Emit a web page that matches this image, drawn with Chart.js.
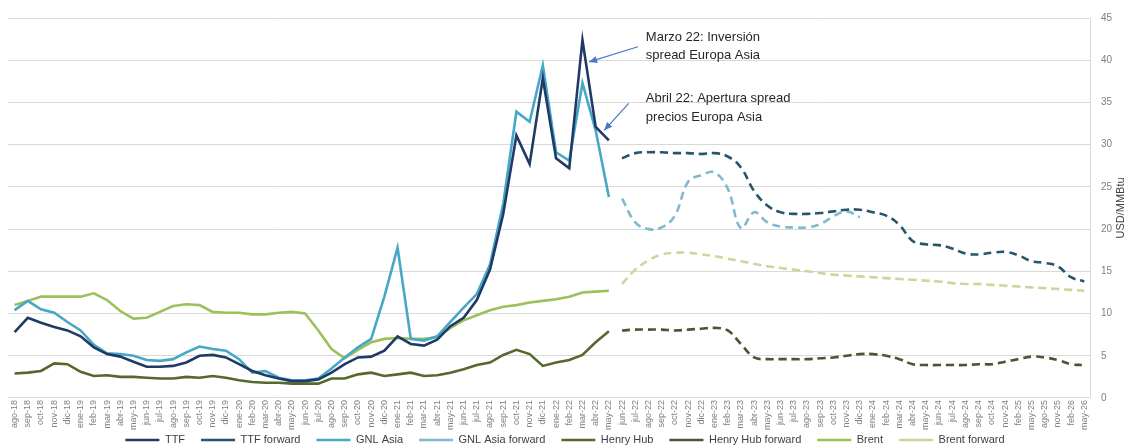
<!DOCTYPE html>
<html>
<head>
<meta charset="utf-8">
<title>Precios gas</title>
<script src="https://cdn.jsdelivr.net/npm/chart.js@4.4.1/dist/chart.umd.min.js"></script>
<style>
  html, body { margin: 0; padding: 0; background: #ffffff; }
</style>
</head>
<body>
<canvas id="preciosGas" width="1126" height="448"></canvas>
<script>
// eje x: meses (histórico ago-18..may-22, forward jun-22..may-26)
var meses = ['ago-18','sep-18','oct-18','nov-18','dic-18','ene-19','feb-19','mar-19','abr-19','may-19','jun-19','jul-19',
  'ago-19','sep-19','oct-19','nov-19','dic-19','ene-20','feb-20','mar-20','abr-20','may-20','jun-20','jul-20',
  'ago-20','sep-20','oct-20','nov-20','dic-20','ene-21','feb-21','mar-21','abr-21','may-21','jun-21','jul-21',
  'ago-21','sep-21','oct-21','nov-21','dic-21','ene-22','feb-22','mar-22','abr-22','may-22',
  'jun-22','jul-22','ago-22','sep-22','oct-22','nov-22','dic-22','ene-23','feb-23','mar-23','abr-23','may-23',
  'jun-23','jul-23','ago-23','sep-23','oct-23','nov-23','dic-23','ene-24','feb-24','mar-24','abr-24','may-24',
  'jun-24','jul-24','ago-24','sep-24','oct-24','nov-24','feb-25','may-25','ago-25','nov-25','feb-26','may-26'];

// historico (USD/MMBtu)
var ttf = [7.8,9.5,8.9,8.4,8.0,7.3,6.0,5.2,4.9,4.3, 3.7,3.7,3.8,4.2,5.0,5.1,4.8,4.0,3.2,2.7,
  2.3,2.0,2.0,2.2,3.0,4.0,4.8,4.9,5.6,7.3, 6.4,6.2,6.9,8.5,9.5,11.6,15.2,21.8,31.1,27.7,
  37.9,28.4,27.2,42.4,32.1,30.5];
var gnlAsia = [10.4,11.5,10.5,10.1,9.0,8.0,6.3,5.3,5.2,5.0, 4.5,4.4,4.6,5.4,6.1,5.8,5.6,4.6,3.0,3.2,
  2.4,2.1,2.1,2.3,3.5,4.8,6.0,7.0,12.0,17.8, 7.0,6.8,7.3,9.0,10.7,12.3,15.8,23.0,33.9,32.7,
  39.4,29.1,28.1,37.3,31.7,23.8];
var henryHub = [2.9,3.0,3.2,4.1,4.0,3.1,2.6,2.7,2.5,2.5, 2.4,2.3,2.3,2.5,2.4,2.6,2.4,2.1,1.9,1.8,
  1.8,1.7,1.7,1.7,2.3,2.3,2.8,3.0,2.6,2.8, 3.0,2.6,2.7,3.0,3.4,3.9,4.2,5.1,5.7,5.2,
  3.8,4.2,4.5,5.1,6.6,7.9];
var brent = [11.0,11.5,12.0,12.0,12.0,12.0,12.4,11.6,10.3,9.4, 9.5,10.2,10.9,11.1,11.0,10.2,10.1,10.1,9.9,9.9,
  10.1,10.2,10.0,8.0,5.8,4.7,5.7,6.6,7.0,7.1, 7.0,7.0,7.2,8.3,9.2,9.8,10.4,10.8,11.0,11.3,
  11.5,11.7,12.0,12.5,12.6,12.7];

// forward (desde jun-22)
var ttfFwd = [28.4,29.0,29.1,29.1,29.0,29.0,28.9,29.0,28.6,27.3, 24.5,22.8,22.0,21.8,21.8,21.9,22.1,22.3,22.3,22.0,
  21.6,20.5,18.6,18.2,18.1,17.7,17.1,17.0,17.2,17.3, 16.9,16.2,16.0,15.6,14.3,13.8];
var gnlAsiaFwd = [23.6,20.8,20.0,20.2,21.6,25.6,26.4,26.7,24.8,20.1, 22.0,20.8,20.3,20.2,20.2,20.6,21.5,22.1,21.4];
var henryHubFwd = [8.0,8.1,8.1,8.1,8.0,8.1,8.2,8.3,8.0,6.4, 4.8,4.6,4.6,4.6,4.6,4.7,4.8,5.0,5.2,5.2,
  5.0,4.6,4.0,3.9,3.9,3.9,3.9,4.0,4.0,4.3, 4.6,4.9,4.8,4.5,4.0,3.9];
var brentFwd = [13.5,15.2,16.3,17.0,17.2,17.2,17.0,16.8,16.5,16.2, 15.9,15.6,15.4,15.2,15.0,14.8,14.6,14.5,14.4,14.3,
  14.2,14.1,14.0,13.9,13.8,13.6,13.5,13.5,13.4,13.3, 13.2,13.1,13.0,12.9,12.8,12.7];

var yTicks = [0,5,10,15,20,25,30,35,40,45];

var nHist = ttf.length;

function pad(arr, before) {
  var out = [];
  for (var i = 0; i < before; i++) out.push(null);
  out = out.concat(arr);
  while (out.length < meses.length) out.push(null);
  return out;
}

function serie(label, data, color, dash, forward) {
  return {
    label: label,
    data: forward ? pad(data, nHist) : pad(data, 0),
    borderColor: color,
    backgroundColor: color,
    borderWidth: 2.6,
    borderDash: dash,
    pointRadius: 0,
    tension: forward ? 0.4 : 0,
    spanGaps: false,
    fill: false
  };
}

// notas con flecha (coordenadas en espacio de datos)
var notas = [
  { lineas: ['Marzo 22: Inversión', 'spread Europa Asia'], tx: 47.8, ty: [42.75, 40.6],
    desde: [47.2, 41.6], hasta: [43.5, 39.8] },
  { lineas: ['Abril 22: Apertura spread', 'precios Europa Asia'], tx: 47.8, ty: [35.5, 33.25],
    desde: [46.5, 34.9], hasta: [44.65, 31.7] }
];

var LEYENDA_ALTO = 16;     // alto reservado a la leyenda
var LEYENDA_CENTRO = 440;  // linea media del texto de la leyenda

var notasPlugin = {
  id: 'notas',
  afterInit: function (chart) {
    var lg = chart.legend;
    if (lg) {
      var fitOrig = lg.fit;
      lg.fit = function () { fitOrig.call(this); this.height = LEYENDA_ALTO; };
    }
  },
  afterLayout: function (chart) {
    // la leyenda usa el mismo padding en horizontal y vertical; subimos solo el borde superior
    var lg = chart.legend;
    if (!lg) return;
    var p = lg.options.labels.padding, fs = lg.options.labels.font.size;
    lg.top -= lg.top + p + fs / 2 - LEYENDA_CENTRO;
  },
  afterDatasetsDraw: function (chart) {
    var ctx = chart.ctx, xs = chart.scales.x, ys = chart.scales.y;
    ctx.save();
    notas.forEach(function (n) {
      var x1 = xs.getPixelForValue(n.desde[0]), y1 = ys.getPixelForValue(n.desde[1]);
      var x2 = xs.getPixelForValue(n.hasta[0]), y2 = ys.getPixelForValue(n.hasta[1]);
      ctx.strokeStyle = '#4a78c0';
      ctx.fillStyle = '#4a78c0';
      ctx.lineWidth = 1.2;
      ctx.setLineDash([]);
      ctx.beginPath(); ctx.moveTo(x1, y1); ctx.lineTo(x2, y2); ctx.stroke();
      var ang = Math.atan2(y2 - y1, x2 - x1), L = 8, W = 3.5;
      ctx.beginPath();
      ctx.moveTo(x2, y2);
      ctx.lineTo(x2 - L * Math.cos(ang) + W * Math.sin(ang), y2 - L * Math.sin(ang) - W * Math.cos(ang));
      ctx.lineTo(x2 - L * Math.cos(ang) - W * Math.sin(ang), y2 - L * Math.sin(ang) + W * Math.cos(ang));
      ctx.closePath(); ctx.fill();
      ctx.fillStyle = '#262626';
      ctx.font = '13px "Liberation Sans", Arial, sans-serif';
      ctx.textBaseline = 'middle';
      ctx.textAlign = 'left';
      var tx = xs.getPixelForValue(n.tx);
      n.lineas.forEach(function (t, k) {
        ctx.fillText(t, tx, ys.getPixelForValue(n.ty[k]));
      });
    });
    // titulo eje y
    ctx.translate(chart.width - 5, (chart.chartArea.top + chart.chartArea.bottom) / 2);
    ctx.rotate(-Math.PI / 2);
    ctx.textAlign = 'center';
    ctx.textBaseline = 'middle';
    ctx.fillStyle = '#404040';
    ctx.font = '11px "Liberation Sans", Arial, sans-serif';
    ctx.fillText('USD/MMBtu', 0, 0);
    ctx.restore();
  }
};

var ctx = document.getElementById('preciosGas').getContext('2d');
new Chart(ctx, {
  type: 'line',
  data: {
    labels: meses,
    datasets: [
      serie('TTF', ttf, '#1f3a66', [], false),
      serie('TTF forward', ttfFwd, '#25566e', [8, 5], true),
      serie('GNL Asia', gnlAsia, '#46a8c6', [], false),
      serie('GNL Asia forward', gnlAsiaFwd, '#80b9cf', [8, 5], true),
      serie('Henry Hub', henryHub, '#55692c', [], false),
      serie('Henry Hub forward', henryHubFwd, '#4b5530', [8, 5], true),
      serie('Brent', brent, '#9cc15a', [], false),
      serie('Brent forward', brentFwd, '#c6d99c', [8, 5], true)
    ]
  },
  plugins: [notasPlugin],
  options: {
    responsive: false,
    devicePixelRatio: 1,
    animation: false,
    layout: { padding: { top: 18, left: 8, right: 4, bottom: 0 } },
    plugins: {
      tooltip: { enabled: false },
      legend: {
        position: 'bottom',
        labels: {
          usePointStyle: true,
          pointStyle: 'line',
          pointStyleWidth: 34,
          padding: 16,
          color: '#404040',
          font: { family: '"Liberation Sans", Arial, sans-serif', size: 11 }
        }
      }
    },
    scales: {
      x: {
        offset: true,
        grid: { display: false, drawTicks: false },
        border: { display: true, color: '#d9d9d9' },
        ticks: {
          autoSkip: false, maxRotation: 90, minRotation: 90, padding: 2,
          color: '#808080', font: { family: '"Liberation Sans", Arial, sans-serif', size: 9 }
        }
      },
      y: {
        position: 'right',
        min: 0, max: 45,
        afterBuildTicks: function (axis) { axis.ticks = yTicks.map(function (v) { return { value: v }; }); },
        grid: { color: '#d9d9d9', drawTicks: false },
        border: { display: true, color: '#d9d9d9' },
        ticks: { padding: 10, color: '#808080', font: { family: '"Liberation Sans", Arial, sans-serif', size: 10 } }
      }
    }
  }
});
</script>
</body>
</html>
